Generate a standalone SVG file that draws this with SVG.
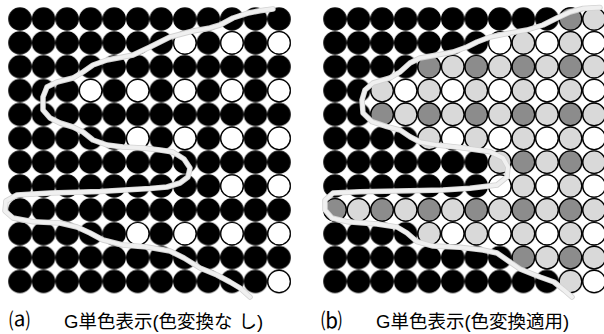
<svg xmlns="http://www.w3.org/2000/svg" xmlns:xlink="http://www.w3.org/1999/xlink" width="604" height="334" viewBox="0 0 604 334">
<style>
.w{fill:#fff;stroke:#000;stroke-width:1.2}
.l{fill:#d9d9d9;stroke:#000;stroke-width:1.2}
.d{fill:#8c8c8c;stroke:#000;stroke-width:1.2}
.c1{fill:none;stroke:#d2d2d2;stroke-width:5.5;stroke-linecap:round;stroke-linejoin:round}
.c2{fill:none;stroke:#f0f0f0;stroke-width:3.8;stroke-linecap:round;stroke-linejoin:round}
.cap{font-family:"Liberation Sans","Noto Sans CJK JP",sans-serif;font-size:18.5px;fill:#000}
.lab{font-family:"Noto Sans CJK JP",sans-serif;font-size:21px;fill:#000}
</style>
<defs>
<pattern id="dotsA" patternUnits="userSpaceOnUse" x="8.225" y="7.07" width="23.55" height="23.86">
<circle cx="11.775" cy="11.93" r="11.75" fill="#000"/>
</pattern>
<pattern id="dotsB" patternUnits="userSpaceOnUse" x="323.225" y="7.07" width="23.55" height="23.86">
<circle cx="11.775" cy="11.93" r="11.75" fill="#000"/>
</pattern>
</defs>
<rect width="604" height="334" fill="#fff"/>

<g id="panel-a">
<rect x="8.225" y="7.07" width="282.6" height="286.32" fill="url(#dotsA)"/>
<g transform="translate(0,42.9)"><circle class="w" cx="184.9" cy="0" r="11.2"/><circle class="w" cx="232" cy="0" r="11.2"/><circle class="w" cx="279.1" cy="0" r="11.2"/></g>
<g transform="translate(0,90.6)"><circle class="w" cx="90.7" cy="0" r="11.2"/><circle class="w" cx="137.8" cy="0" r="11.2"/><circle class="w" cx="184.9" cy="0" r="11.2"/><circle class="w" cx="232" cy="0" r="11.2"/><circle class="w" cx="279.1" cy="0" r="11.2"/></g>
<g transform="translate(0,138.3)"><circle class="w" cx="137.8" cy="0" r="11.2"/><circle class="w" cx="184.9" cy="0" r="11.2"/><circle class="w" cx="232" cy="0" r="11.2"/><circle class="w" cx="279.1" cy="0" r="11.2"/></g>
<g transform="translate(0,186)"><circle class="w" cx="232" cy="0" r="11.2"/><circle class="w" cx="279.1" cy="0" r="11.2"/></g>
<g transform="translate(0,233.7)"><circle class="w" cx="137.8" cy="0" r="11.2"/><circle class="w" cx="184.9" cy="0" r="11.2"/><circle class="w" cx="232" cy="0" r="11.2"/><circle class="w" cx="279.1" cy="0" r="11.2"/></g>
<g transform="translate(0,281.5)"><circle class="w" cx="279.1" cy="0" r="11.2"/></g>
<path class="c1" d="M273,9 L260,10.7 L247,13.3 L233,18 L220,25 L210,28 L193,31 L170,37 L150,47 L133,55 L123,57 L107,60 L93,65 L83,72 L73,78 L57,82 L47,87 L43,97 L43,110 L50,118 L60,123 L73,127 L83,132 L93,140 L107,145 L123,147 L143,148 L160,150 L173,152 L184,159 L190,168 L188,177 L180,183 L167,187 L150,188.5 L133,189.5 L100,191.5 L50,193 L17,195 L6,201 L5,211 L13,218 L33,221.7 L60,223 L77,227 L90,233 L103,240 L123,245 L147,247 L170,251 L184,258 L200,268 L217,275 L230,282 L240,288 L250,297"/>
<path class="c2" d="M273,9 L260,10.7 L247,13.3 L233,18 L220,25 L210,28 L193,31 L170,37 L150,47 L133,55 L123,57 L107,60 L93,65 L83,72 L73,78 L57,82 L47,87 L43,97 L43,110 L50,118 L60,123 L73,127 L83,132 L93,140 L107,145 L123,147 L143,148 L160,150 L173,152 L184,159 L190,168 L188,177 L180,183 L167,187 L150,188.5 L133,189.5 L100,191.5 L50,193 L17,195 L6,201 L5,211 L13,218 L33,221.7 L60,223 L77,227 L90,233 L103,240 L123,245 L147,247 L170,251 L184,258 L200,268 L217,275 L230,282 L240,288 L250,297"/>
</g>

<g id="panel-b">
<rect x="323.225" y="7.07" width="282.6" height="286.32" fill="url(#dotsB)"/>
<g transform="translate(0,19)"><circle class="d" cx="570.5" cy="0" r="11.2"/><circle class="l" cx="594.1" cy="0" r="11.2"/></g>
<g transform="translate(0,42.9)"><circle class="w" cx="499.9" cy="0" r="11.2"/><circle class="l" cx="523.4" cy="0" r="11.2"/><circle class="w" cx="547" cy="0" r="11.2"/><circle class="l" cx="570.5" cy="0" r="11.2"/><circle class="w" cx="594.1" cy="0" r="11.2"/></g>
<g transform="translate(0,66.7)"><circle class="d" cx="429.2" cy="0" r="11.2"/><circle class="l" cx="452.8" cy="0" r="11.2"/><circle class="d" cx="476.3" cy="0" r="11.2"/><circle class="l" cx="499.9" cy="0" r="11.2"/><circle class="d" cx="523.4" cy="0" r="11.2"/><circle class="l" cx="547" cy="0" r="11.2"/><circle class="d" cx="570.5" cy="0" r="11.2"/><circle class="l" cx="594.1" cy="0" r="11.2"/></g>
<g transform="translate(0,90.6)"><circle class="l" cx="382.1" cy="0" r="11.2"/><circle class="w" cx="405.7" cy="0" r="11.2"/><circle class="l" cx="429.2" cy="0" r="11.2"/><circle class="w" cx="452.8" cy="0" r="11.2"/><circle class="l" cx="476.3" cy="0" r="11.2"/><circle class="w" cx="499.9" cy="0" r="11.2"/><circle class="l" cx="523.4" cy="0" r="11.2"/><circle class="w" cx="547" cy="0" r="11.2"/><circle class="l" cx="570.5" cy="0" r="11.2"/><circle class="w" cx="594.1" cy="0" r="11.2"/></g>
<g transform="translate(0,114.4)"><circle class="d" cx="382.1" cy="0" r="11.2"/><circle class="l" cx="405.7" cy="0" r="11.2"/><circle class="d" cx="429.2" cy="0" r="11.2"/><circle class="l" cx="452.8" cy="0" r="11.2"/><circle class="d" cx="476.3" cy="0" r="11.2"/><circle class="l" cx="499.9" cy="0" r="11.2"/><circle class="d" cx="523.4" cy="0" r="11.2"/><circle class="l" cx="547" cy="0" r="11.2"/><circle class="d" cx="570.5" cy="0" r="11.2"/><circle class="l" cx="594.1" cy="0" r="11.2"/></g>
<g transform="translate(0,138.3)"><circle class="l" cx="429.2" cy="0" r="11.2"/><circle class="w" cx="452.8" cy="0" r="11.2"/><circle class="l" cx="476.3" cy="0" r="11.2"/><circle class="w" cx="499.9" cy="0" r="11.2"/><circle class="l" cx="523.4" cy="0" r="11.2"/><circle class="w" cx="547" cy="0" r="11.2"/><circle class="l" cx="570.5" cy="0" r="11.2"/><circle class="w" cx="594.1" cy="0" r="11.2"/></g>
<g transform="translate(0,162.2)"><circle class="l" cx="499.9" cy="0" r="11.2"/><circle class="d" cx="523.4" cy="0" r="11.2"/><circle class="l" cx="547" cy="0" r="11.2"/><circle class="d" cx="570.5" cy="0" r="11.2"/><circle class="l" cx="594.1" cy="0" r="11.2"/></g>
<g transform="translate(0,186)"><circle class="w" cx="499.9" cy="0" r="11.2"/><circle class="l" cx="523.4" cy="0" r="11.2"/><circle class="w" cx="547" cy="0" r="11.2"/><circle class="l" cx="570.5" cy="0" r="11.2"/><circle class="w" cx="594.1" cy="0" r="11.2"/></g>
<g transform="translate(0,209.9)"><circle class="d" cx="335" cy="0" r="11.2"/><circle class="l" cx="358.6" cy="0" r="11.2"/><circle class="d" cx="382.1" cy="0" r="11.2"/><circle class="l" cx="405.7" cy="0" r="11.2"/><circle class="d" cx="429.2" cy="0" r="11.2"/><circle class="l" cx="452.8" cy="0" r="11.2"/><circle class="d" cx="476.3" cy="0" r="11.2"/><circle class="l" cx="499.9" cy="0" r="11.2"/><circle class="d" cx="523.4" cy="0" r="11.2"/><circle class="l" cx="547" cy="0" r="11.2"/><circle class="d" cx="570.5" cy="0" r="11.2"/><circle class="l" cx="594.1" cy="0" r="11.2"/></g>
<g transform="translate(0,233.7)"><circle class="l" cx="429.2" cy="0" r="11.2"/><circle class="w" cx="452.8" cy="0" r="11.2"/><circle class="l" cx="476.3" cy="0" r="11.2"/><circle class="w" cx="499.9" cy="0" r="11.2"/><circle class="l" cx="523.4" cy="0" r="11.2"/><circle class="w" cx="547" cy="0" r="11.2"/><circle class="l" cx="570.5" cy="0" r="11.2"/><circle class="w" cx="594.1" cy="0" r="11.2"/></g>
<g transform="translate(0,257.6)"><circle class="d" cx="523.4" cy="0" r="11.2"/><circle class="l" cx="547" cy="0" r="11.2"/><circle class="d" cx="570.5" cy="0" r="11.2"/><circle class="l" cx="594.1" cy="0" r="11.2"/></g>
<g transform="translate(0,281.5)"><circle class="l" cx="570.5" cy="0" r="11.2"/><circle class="w" cx="594.1" cy="0" r="11.2"/></g>
<path class="c1" d="M600,7.5 L583,8.5 L570,12 L557,18 L543,25 L527,30 L510,33 L490,37 L477,42 L467,47 L453,52 L437,55 L420,58 L410,63 L400,72 L390,78 L373,83 L365,90 L362,100 L363,113 L372,121.7 L387,126.7 L400,130 L410,136.7 L420,142 L437,145 L460,147.5 L490,151.7 L503,158 L508,167 L507,177 L497,185 L470,188.3 L443,190 L410,190.7 L360,191.7 L333,193 L325,200 L325,210 L332,218 L347,221.7 L377,224 L397,227 L407,233 L417,241.7 L433,246 L460,247.3 L483,250 L497,253 L507,260 L520,269 L540,277 L554,282 L564,290 L572,297"/>
<path class="c2" d="M600,7.5 L583,8.5 L570,12 L557,18 L543,25 L527,30 L510,33 L490,37 L477,42 L467,47 L453,52 L437,55 L420,58 L410,63 L400,72 L390,78 L373,83 L365,90 L362,100 L363,113 L372,121.7 L387,126.7 L400,130 L410,136.7 L420,142 L437,145 L460,147.5 L490,151.7 L503,158 L508,167 L507,177 L497,185 L470,188.3 L443,190 L410,190.7 L360,191.7 L333,193 L325,200 L325,210 L332,218 L347,221.7 L377,224 L397,227 L407,233 L417,241.7 L433,246 L460,247.3 L483,250 L497,253 L507,260 L520,269 L540,277 L554,282 L564,290 L572,297"/>
</g>

<g id="captions">
<text class="lab" x="9" y="328">⒜</text>
<text class="cap" x="64" y="328">G単色表示(色変換な<tspan dx="6">し)</tspan></text>
<text class="lab" x="321" y="328">⒝</text>
<text class="cap" x="376" y="328">G単色表示(色変換適用)</text>
</g>
</svg>
